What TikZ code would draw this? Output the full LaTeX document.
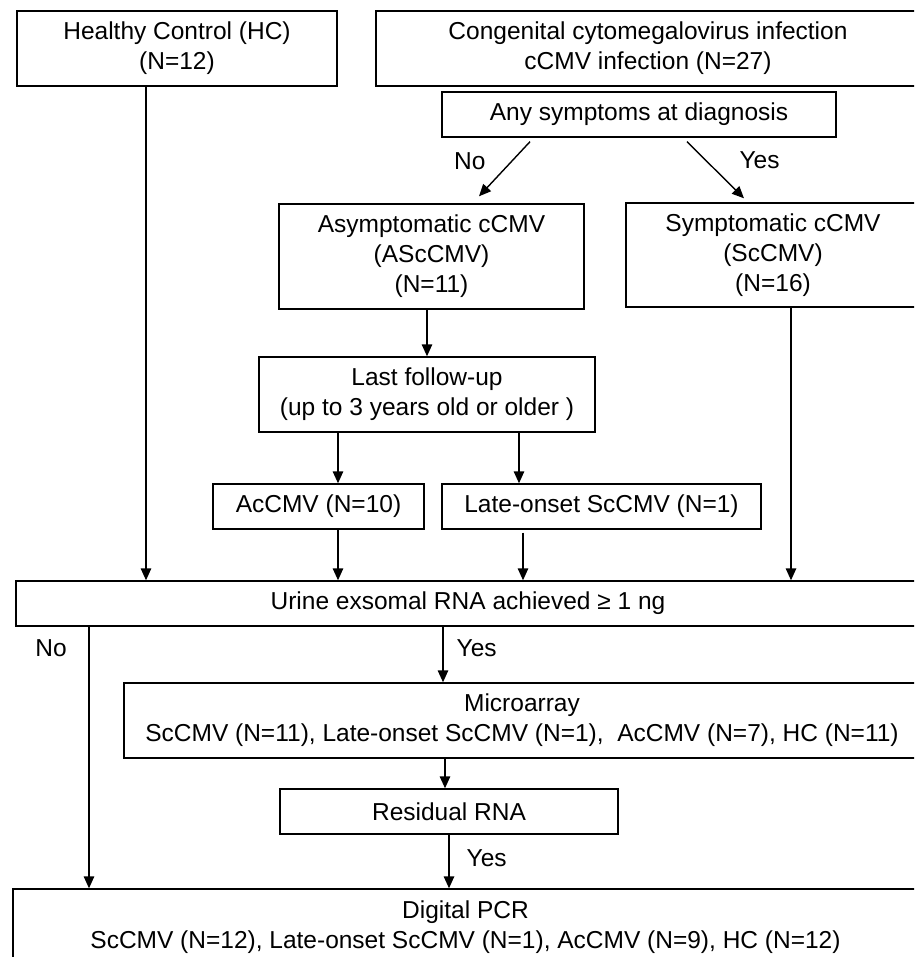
\documentclass[tikz,border=0pt]{standalone}
\usepackage{fontspec}
\setmainfont{Liberation Sans}
\usetikzlibrary{arrows.meta}

\begin{document}
\begin{tikzpicture}[>={Triangle[length=12pt,width=10.5pt]},x=1pt,y=-1pt,line width=1.4pt,
  box/.style={draw,align=center,inner sep=0pt,font=\fontsize{24.5}{30}\selectfont},
  lbl/.style={inner sep=0pt,font=\fontsize{24.5}{30}\selectfont}]
          \useasboundingbox (0,0) rectangle (914,957);
          \clip (0,0) rectangle (914,957);
          % top row
          \node[box,minimum width=320pt,minimum height=75pt] (hc) at (177,48.5) {Healthy Control (HC)\\(N=12)};
          \node[box,minimum width=544pt,minimum height=75pt] (ccmv) at (648,48.5) {Congenital cytomegalovirus infection\\cCMV infection (N=27)};
          \node[box,minimum width=394pt,minimum height=45pt] (any) at (639,114.5) {Any symptoms at diagnosis};
          \node[box,minimum width=305pt,minimum height=105pt] (asym) at (431.5,256.5) {Asymptomatic cCMV\\(AScCMV)\\(N=11)};
          \node[box,minimum width=294pt,minimum height=104pt] (sym) at (773,255) {Symptomatic cCMV\\(ScCMV)\\(N=16)};
          % follow-up
          \node[box,minimum width=336pt,minimum height=75pt] (follow) at (427,394.5) {Last follow-up\\(up to 3 years old or older )};
          \node[box,minimum width=211pt,minimum height=45pt] (ac) at (318.5,506.5) {AcCMV (N=10)};
          \node[box,minimum width=319pt,minimum height=45pt] (late) at (601.5,506.5) {Late-onset ScCMV (N=1)};
          % RNA
          \node[box,minimum width=904pt,minimum height=45pt] (urine) at (468,603.5) {Urine exsomal RNA achieved ≥ 1 ng};
          \node[box,minimum width=796pt,minimum height=75pt] (micro) at (522,720.5) {Microarray\\ScCMV (N=11), Late-onset ScCMV (N=1), \ AcCMV (N=7), HC (N=11)};
          \node[box,minimum width=338pt,minimum height=45pt] (resid) at (449,811.5) {Residual RNA};
          \node[box,minimum width=905pt,minimum height=76pt] (pcr) at (465.5,927) {Digital PCR\\ScCMV (N=12), Late-onset ScCMV (N=1), AcCMV (N=9), HC (N=12)};
          % arrows
          \draw[->] ([xshift=-109pt,yshift=-4pt]any.south) -- ([xshift=47.5pt,yshift=7pt]asym.north) node[lbl,pos=0.35,left=26pt] {No};
          \draw[->] ([xshift=48pt,yshift=-4pt]any.south) -- ([xshift=-29pt,yshift=4pt]sym.north) node[lbl,pos=0.33,right=33pt] {Yes};
          \draw[->] (asym.south -| follow.north) -- (follow.north);
          \draw[->] ([xshift=-89pt]follow.south) -- ([xshift=-89pt]follow.south |- ac.north);
          \draw[->] ([xshift=92pt]follow.south) -- ([xshift=92pt]follow.south |- late.north);
          \draw[->] ([xshift=-31pt]hc.south) -- ([xshift=-31pt]hc.south |- urine.north);
          \draw[->] ([xshift=19.5pt]ac.south) -- ([xshift=19.5pt]ac.south |- urine.north);
          \draw[->] ([xshift=-78.5pt,yshift=-3pt]late.south) -- ([xshift=-78.5pt]late.south |- urine.north);
          \draw[->] ([xshift=18pt]sym.south) -- ([xshift=18pt]sym.south |- urine.north);
          \draw[->] ([xshift=-25pt]urine.south) -- ([xshift=-25pt]urine.south |- micro.north) node[lbl,pos=0.39,right=13pt] {Yes};
          \draw[->] ([xshift=-379pt]urine.south) -- ([xshift=-379pt]urine.south |- pcr.north) node[lbl,pos=0.084,left=21.5pt] {No};
          \draw[->] ([xshift=-77pt]micro.south) -- ([xshift=-77pt]micro.south |- resid.north);
          \draw[->] (resid.south) -- (resid.south |- pcr.north) node[lbl,pos=0.44,right=17pt] {Yes};
        \end{tikzpicture}
\end{document}
